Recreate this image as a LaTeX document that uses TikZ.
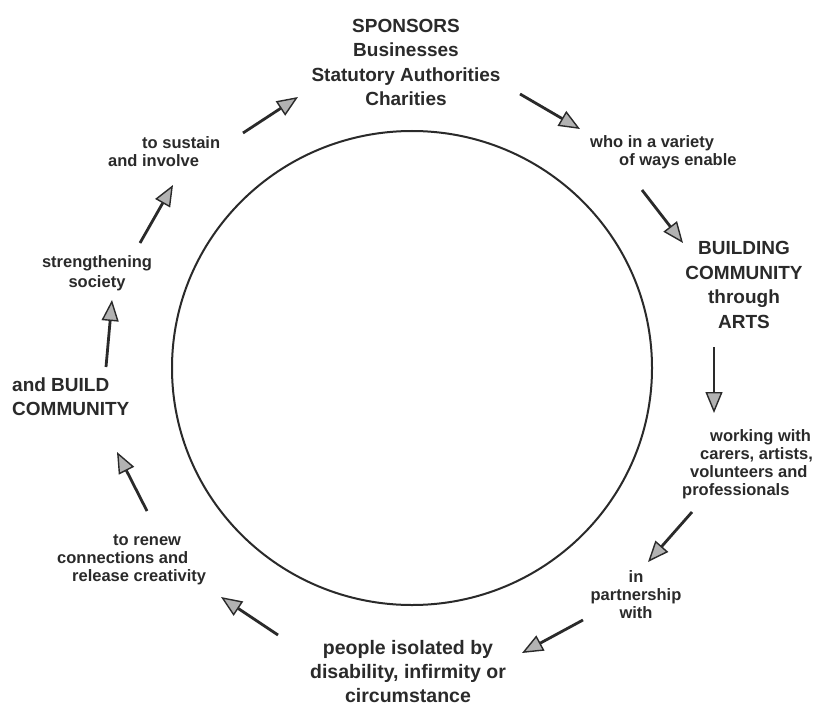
\documentclass[tikz,border=0pt]{standalone}
\usepackage{fontspec}
\setmainfont{Liberation Sans}
\usetikzlibrary{arrows.meta}
\definecolor{ink}{HTML}{2A2A2A}
\begin{document}
\begin{tikzpicture}[x=1pt,y=-1pt,
  big/.style={font=\bfseries\fontsize{19}{24.5}\selectfont, text=ink, inner sep=0pt, align=center},
  small/.style={font=\bfseries\fontsize{16.5}{18}\selectfont, text=ink, inner sep=0pt},
  flow/.style={line width=2.8pt, draw=ink,
    -{Triangle[length=21pt,width=17pt,fill=gray!60,line width=1.4pt]}}]
\useasboundingbox (0,0) rectangle (816,706);
\fill[white] (0,0) rectangle (816,706);
% circle
\draw[line width=2pt, draw=ink] (412,368) ellipse [x radius=240, y radius=237];
% texts
\node[big] (spons) at (406,62.5) {SPONSORS\\Businesses\\Statutory Authorities\\Charities};
\node[small, align=left, anchor=west] (who) at (590,152.5) {who in a variety\\\hspace*{29pt}of ways enable};
\node[big] (bca) at (744,285) {BUILDING\\COMMUNITY\\through\\ARTS};
\node[small, align=left, anchor=west] (work) at (682,464) {\hspace*{28pt}working with\\\hspace*{18pt}carers, artists,\\\hspace*{8pt}volunteers and\\professionals};
\node[small, align=center] (part) at (636,595) {in\\partnership\\with};
\node[big, font=\bfseries\fontsize{19.5}{24}\selectfont] (people) at (408,672) {people isolated by\\disability, infirmity or\\circumstance};
\node[small, align=left, anchor=west] (renew) at (57,560) {\hspace*{56pt}to renew\\connections and\\\hspace*{15pt}release creativity};
\node[big, align=left, anchor=west, font=\bfseries\fontsize{19}{24}\selectfont] (andb) at (12,397) {and BUILD\\COMMUNITY};
\node[small, align=center, font=\bfseries\fontsize{16.5}{19.5}\selectfont] (streng) at (97,273) {strengthening\\society};
\node[small, align=left, anchor=west] (sustain) at (108,152) {\hspace*{34pt}to sustain\\and involve};
% arrow end points
\coordinate (a1s) at (243,133); \coordinate (a1e) at (298,97);
\coordinate (a2s) at (520,94);  \coordinate (a2e) at (580,129);
\coordinate (a3s) at (642,190); \coordinate (a3e) at (683,243);
\coordinate (a4s) at (714,347); \coordinate (a4e) at (714,413);
\coordinate (a5s) at (692,512); \coordinate (a5e) at (648,562);
\coordinate (a6s) at (583,620); \coordinate (a6e) at (522,653);
\coordinate (a7s) at (278,635); \coordinate (a7e) at (221,597);
\coordinate (a8s) at (147,511); \coordinate (a8e) at (117,452);
\coordinate (a9s) at (106,367); \coordinate (a9e) at (112,300);
\coordinate (a10s) at (140,243); \coordinate (a10e) at (173,185);
\draw[flow] (a1s) -- (a1e);
\draw[flow] (a2s) -- (a2e);
\draw[flow] (a3s) -- (a3e);
\draw[flow] (a4s) -- (a4e);
\draw[flow] (a5s) -- (a5e);
\draw[flow] (a6s) -- (a6e);
\draw[flow] (a7s) -- (a7e);
\draw[flow] (a8s) -- (a8e);
\draw[flow] (a9s) -- (a9e);
\draw[flow] (a10s) -- (a10e);
\end{tikzpicture}
\end{document}
